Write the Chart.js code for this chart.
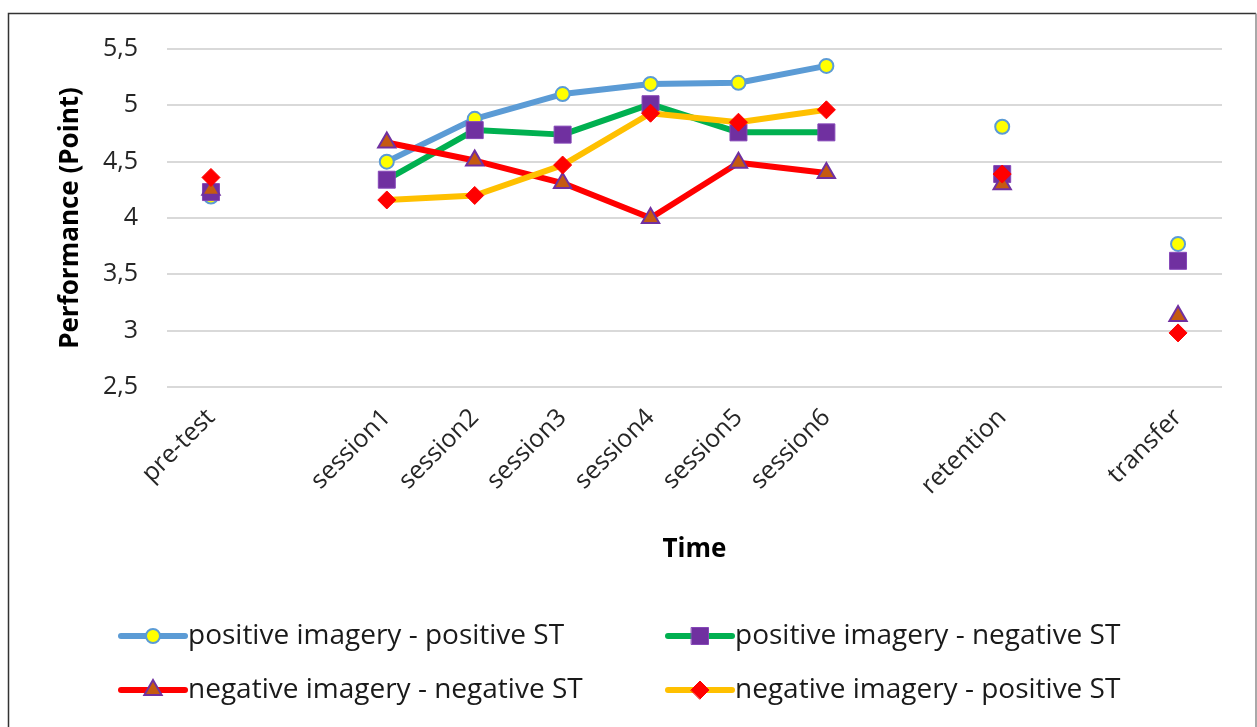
<!DOCTYPE html>
<html>
<head>
<meta charset="utf-8">
<script src="https://cdn.jsdelivr.net/npm/chart.js@4.4.1/dist/chart.umd.min.js"></script>
<style>
  html, body { margin: 0; padding: 0; background: #ffffff; }
  canvas { display: block; }
</style>
</head>
<body>
<canvas id="chart" width="1257" height="727"></canvas>
<script>
// Measurement points along the time axis (blank slots keep the gaps between phases)
const categories = ['pre-test', '', 'session1', 'session2', 'session3', 'session4', 'session5', 'session6', '', 'retention', '', 'transfer'];

// Mean performance per group
const posImageryPosST = [4.19, null, 4.50, 4.88, 5.10, 5.19, 5.20, 5.35, null, 4.81, null, 3.77];
const posImageryNegST = [4.23, null, 4.34, 4.78, 4.74, 5.01, 4.76, 4.76, null, 4.39, null, 3.62];
const negImageryNegST = [4.25, null, 4.67, 4.51, 4.31, 4.00, 4.49, 4.40, null, 4.30, null, 3.13];
const negImageryPosST = [4.36, null, 4.16, 4.20, 4.47, 4.93, 4.85, 4.96, null, 4.39, null, 2.98];

const seriesNames = [
  'positive imagery - positive ST',
  'positive imagery - negative ST',
  'negative imagery - negative ST',
  'negative imagery - positive ST'
];

// Value axis range
const yMin = 2.5;
const yMax = 5.5;
const yStep = 0.5;

const FONT = "'Open Sans', 'Noto Sans', sans-serif";

// Outer frame around the figure
const framePlugin = {
  id: 'frame',
  beforeDraw(chart) {
    const ctx = chart.ctx;
    ctx.save();
    ctx.fillStyle = '#ffffff';
    ctx.fillRect(0, 0, chart.width, chart.height);
    ctx.strokeStyle = '#333333';
    ctx.lineWidth = 1.5;
    ctx.beginPath();
    ctx.moveTo(8.5, chart.height);
    ctx.lineTo(8.5, 13.5);
    ctx.lineTo(1256, 13.5);
    ctx.stroke();
    ctx.strokeStyle = '#8c8c8c';
    ctx.beginPath();
    ctx.moveTo(1256, 13.5);
    ctx.lineTo(1256, chart.height);
    ctx.stroke();
    ctx.restore();
  }
};

// Two-column legend with a line sample and the series marker
const lineLegendPlugin = {
  id: 'lineLegend',
  afterDraw(chart) {
    const ctx = chart.ctx;
    const colX = [118, 665];
    const rowY = [636, 690];
    ctx.save();
    chart.data.datasets.forEach((ds, i) => {
      const x0 = colX[i % 2];
      const y = rowY[Math.floor(i / 2)];
      ctx.strokeStyle = ds.borderColor;
      ctx.lineWidth = ds.borderWidth;
      ctx.lineCap = 'round';
      ctx.beginPath();
      ctx.moveTo(x0 + 3, y);
      ctx.lineTo(x0 + 67, y);
      ctx.stroke();
      ctx.fillStyle = ds.pointBackgroundColor;
      ctx.strokeStyle = ds.pointBorderColor;
      ctx.lineWidth = ds.pointBorderWidth;
      Chart.helpers.drawPoint(ctx, {
        pointStyle: ds.pointStyle,
        radius: ds.pointRadius,
        rotation: 0,
        borderWidth: ds.pointBorderWidth
      }, x0 + 35, y);
      ctx.fillStyle = '#1a1a1a';
      ctx.font = '28px ' + FONT;
      ctx.textAlign = 'left';
      ctx.textBaseline = 'middle';
      ctx.fillText(ds.label, x0 + 70, y);
    });
    ctx.restore();
  }
};

const chart = new Chart(document.getElementById('chart'), {
  type: 'line',
  data: {
    labels: categories,
    datasets: [
      {
        label: seriesNames[0],
        data: posImageryPosST,
        borderColor: '#5B9BD5',
        borderWidth: 6,
        pointStyle: 'circle',
        pointRadius: 7,
        pointBackgroundColor: '#FFFF00',
        pointBorderColor: '#5B9BD5',
        pointBorderWidth: 2,
        order: 3
      },
      {
        label: seriesNames[1],
        data: posImageryNegST,
        borderColor: '#00B050',
        borderWidth: 6,
        pointStyle: 'rect',
        pointRadius: 12,
        pointBackgroundColor: '#7030A0',
        pointBorderColor: '#8547B8',
        pointBorderWidth: 1,
        order: 2
      },
      {
        label: seriesNames[2],
        data: negImageryNegST,
        borderColor: '#FF0000',
        borderWidth: 6,
        pointStyle: 'triangle',
        pointRadius: 10,
        pointBackgroundColor: '#C55A11',
        pointBorderColor: '#7030A0',
        pointBorderWidth: 2,
        order: 1
      },
      {
        label: seriesNames[3],
        data: negImageryPosST,
        borderColor: '#FFC000',
        borderWidth: 6,
        pointStyle: 'rectRot',
        pointRadius: 9,
        pointBackgroundColor: '#FF0000',
        pointBorderColor: '#FF0000',
        pointBorderWidth: 1,
        order: 0
      }
    ]
  },
  options: {
    responsive: false,
    animation: false,
    events: [],
    spanGaps: false,
    layout: { padding: { left: 0, top: 49, right: 35, bottom: 160 } },
    elements: {
      line: { tension: 0, borderJoinStyle: 'round', borderCapStyle: 'round' }
    },
    plugins: {
      legend: { display: false },
      tooltip: { enabled: false }
    },
    scales: {
      x: {
        offset: true,
        grid: { display: false },
        border: { display: false },
        ticks: {
          autoSkip: false,
          minRotation: 45,
          maxRotation: 45,
          padding: 8,
          color: '#262626',
          font: { family: FONT, size: 25 }
        },
        title: {
          display: true,
          text: 'Time',
          color: '#000000',
          font: { family: FONT, size: 26, weight: 'bold' },
          padding: { top: 0, bottom: 2 }
        },
        afterFit(scale) { scale.height = 180; }
      },
      y: {
        min: yMin,
        max: yMax,
        grid: { color: '#d9d9d9', lineWidth: 2, drawTicks: false },
        border: { display: false },
        ticks: {
          stepSize: yStep,
          padding: 29,
          color: '#262626',
          font: { family: FONT, size: 25 },
          callback: (v) => String(v).replace('.', ',')
        },
        title: {
          display: true,
          text: 'Performance (Point)',
          color: '#000000',
          font: { family: FONT, size: 26, weight: 'bold' },
          padding: { top: 55, bottom: 0 }
        },
        afterFit(scale) { scale.width = 167; }
      }
    }
  },
  plugins: [framePlugin, lineLegendPlugin]
});
</script>
</body>
</html>
